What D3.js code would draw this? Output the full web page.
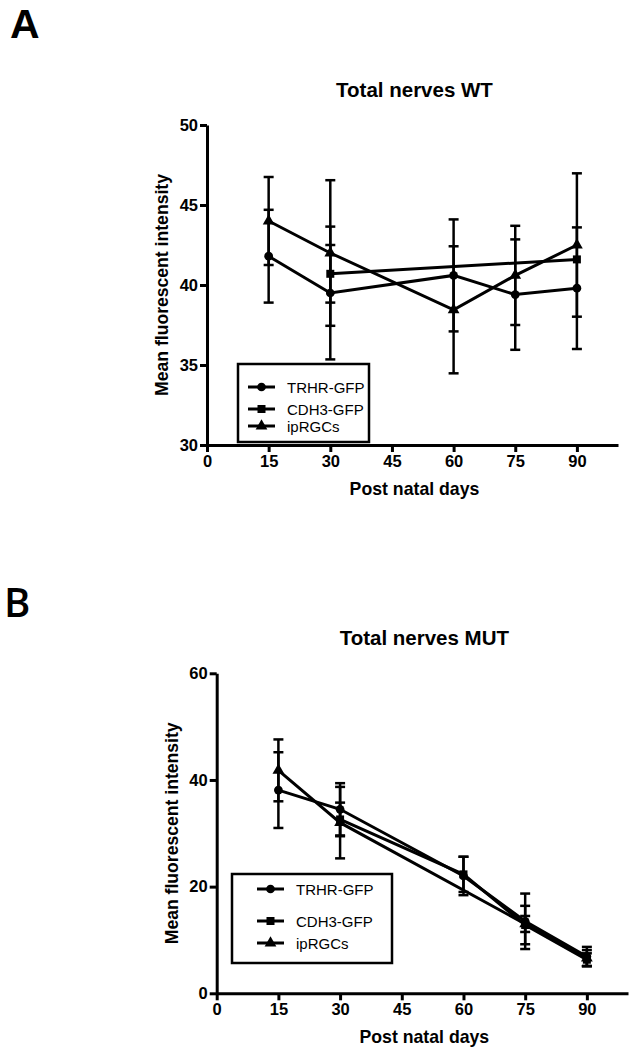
<!DOCTYPE html>
<html>
<head>
<meta charset="utf-8">
<title>Total nerves WT / MUT</title>
<script src="https://cdn.jsdelivr.net/npm/d3@7"></script>
<style>
  body { margin: 0; background: #fff; }
  svg text { font-family: "Liberation Sans", Arial, sans-serif; fill: #000; }
  .domain, .tick line { stroke: #000; }
</style>
</head>
<body>
<svg id="fig" width="632" height="1050"></svg>
<script>
// x values (post natal days) shared by both panels
var days = [15, 30, 60, 75, 90];
var seriesNames = ["TRHR-GFP", "CDH3-GFP", "ipRGCs"];
var xTicks = [0, 15, 30, 45, 60, 75, 90];

// panel A - WT (null = no measurement, line is drawn across)
var wtTRHR     = [41.8, 39.5, 40.6, 39.4, 39.8];
var wtTRHRerr  = [2.9, 4.15, 3.5, 3.45, 3.8];
var wtCDH3     = [null, 40.7, null, null, 41.6];
var wtCDH3err  = [null, 1.8, null, null, 0];
var wtIpRGC    = [44.0, 42.0, 38.45, 40.6, 42.5];
var wtIpRGCerr = [2.75, 4.55, 3.97, 3.1, 4.48];
var wtYTicks   = [30, 35, 40, 45, 50];

// panel B - MUT
var mutTRHR     = [38.1, 34.5, 22.0, 13.5, 6.9];
var mutTRHRerr  = [7.1, 4.9, 3.6, 5.2, 1.8];
var mutCDH3     = [null, 32.6, 22.3, 12.8, 6.3];
var mutCDH3err  = [null, 3.15, 3.3, 3.6, 1.2];
var mutIpRGC    = [41.8, 32.0, null, 13.0, 6.6];
var mutIpRGCerr = [5.8, 6.7, null, 1.5, 1.5];
var mutYTicks   = [0, 20, 40, 60];

var svg = d3.select("#fig");
var symbols = [d3.symbolCircle, d3.symbolSquare, d3.symbolTriangle];
var symSize = [60, 64, 60];

function drawPanel(p) {
  var x = d3.scaleLinear().domain([0, 100]).range([p.left, p.right]);
  var y = d3.scaleLinear().domain(p.yDomain).range([p.bottom, p.top]);
  var g = svg.append("g");

  // title
  g.append("text")
    .attr("x", (p.left + p.right) / 2 + 2)
    .attr("y", p.top - 28)
    .attr("text-anchor", "middle")
    .style("font-size", "20.5px")
    .style("font-weight", "bold")
    .text(p.title);

  // axes
  var yAxis = d3.axisLeft(y).tickValues(p.yTicks).tickSize(7).tickSizeOuter(0).tickPadding(2);
  var xAxis = d3.axisBottom(x).tickValues(xTicks).tickSize(7).tickSizeOuter(0).tickPadding(3);

  g.append("g")
    .attr("transform", "translate(" + p.left + ",0)")
    .call(yAxis)
    .call(function(a) {
      a.select(".domain").attr("stroke-width", 3);
      a.selectAll(".tick line").attr("stroke-width", 3);
      a.selectAll("text").style("font-size", "16.5px").style("font-weight", "bold")
        .attr("font-family", null);
    });

  g.append("g")
    .attr("transform", "translate(0," + p.bottom + ")")
    .call(xAxis)
    .call(function(a) {
      a.select(".domain").attr("stroke-width", 3);
      a.selectAll(".tick line").attr("stroke-width", 3);
      a.selectAll("text").style("font-size", "16.5px").style("font-weight", "bold")
        .attr("font-family", null);
    });

  // axis titles
  g.append("text")
    .attr("transform", "translate(" + (p.left - 39) + "," + ((p.top + p.bottom) / 2) + ") rotate(-90)")
    .attr("text-anchor", "middle")
    .style("font-size", "17.6px")
    .style("font-weight", "bold")
    .text("Mean fluorescent intensity");

  g.append("text")
    .attr("x", (p.left + p.right) / 2 + 2)
    .attr("y", p.bottom + 50)
    .attr("text-anchor", "middle")
    .style("font-size", "17.7px")
    .style("font-weight", "bold")
    .text("Post natal days");

  var line = d3.line()
    .x(function(d) { return x(d.day); })
    .y(function(d) { return y(d.v); });

  p.series.forEach(function(s, si) {
    var pts = days.map(function(d, i) { return {day: d, v: s.values[i], e: s.errors[i]}; })
                  .filter(function(d) { return d.v != null; });

    // error bars
    var eb = g.append("g");
    pts.forEach(function(d) {
      if (!d.e) return;
      var cx = x(d.day);
      eb.append("line").attr("x1", cx).attr("x2", cx)
        .attr("y1", y(d.v - d.e)).attr("y2", y(d.v + d.e))
        .attr("stroke", "#000").attr("stroke-width", 2.5);
      [d.v - d.e, d.v + d.e].forEach(function(c) {
        eb.append("line").attr("x1", cx - 5).attr("x2", cx + 5)
          .attr("y1", y(c)).attr("y2", y(c))
          .attr("stroke", "#000").attr("stroke-width", 2.5);
      });
    });

    g.append("path")
      .attr("d", line(pts))
      .attr("fill", "none")
      .attr("stroke", "#000")
      .attr("stroke-width", 3);

    g.selectAll(null)
      .data(pts)
      .enter().append("path")
      .attr("transform", function(d) { return "translate(" + x(d.day) + "," + y(d.v) + ")"; })
      .attr("d", d3.symbol().type(symbols[si]).size(symSize[si]))
      .attr("fill", "#000");
  });

  // legend
  var lg = g.append("g");
  lg.append("rect")
    .attr("x", p.legend.x).attr("y", p.legend.y)
    .attr("width", p.legend.w).attr("height", p.legend.h)
    .attr("fill", "#fff").attr("stroke", "#000").attr("stroke-width", 2.5);
  seriesNames.forEach(function(name, i) {
    var ry = p.legend.y + p.legend.rows[i];
    var lx = p.legend.x + p.legend.symX;
    lg.append("line")
      .attr("x1", lx).attr("x2", lx + 27)
      .attr("y1", ry).attr("y2", ry)
      .attr("stroke", "#000").attr("stroke-width", 3);
    lg.append("path")
      .attr("transform", "translate(" + (lx + 13.5) + "," + ry + ")")
      .attr("d", d3.symbol().type(symbols[i]).size(symSize[i]))
      .attr("fill", "#000");
    lg.append("text")
      .attr("x", lx + 39)
      .attr("y", ry + 5.5)
      .style("font-size", "15px")
      .text(name);
  });
}

drawPanel({
  title: "Total nerves WT",
  left: 207, right: 618, top: 125, bottom: 445,
  yDomain: [30, 50], yTicks: wtYTicks,
  series: [
    {values: wtTRHR, errors: wtTRHRerr},
    {values: wtCDH3, errors: wtCDH3err},
    {values: wtIpRGC, errors: wtIpRGCerr}
  ],
  legend: {x: 238, y: 364, w: 131, h: 78, symX: 10, rows: [23, 45, 62]}
});

drawPanel({
  title: "Total nerves MUT",
  left: 216.7, right: 628, top: 673.3, bottom: 993.3,
  yDomain: [0, 60], yTicks: mutYTicks,
  series: [
    {values: mutTRHR, errors: mutTRHRerr},
    {values: mutCDH3, errors: mutCDH3err},
    {values: mutIpRGC, errors: mutIpRGCerr}
  ],
  legend: {x: 232, y: 874, w: 160, h: 89, symX: 25, rows: [15, 47, 69]}
});

// panel letters
svg.append("text")
  .attr("x", 10).attr("y", 38)
  .style("font-size", "41px").style("font-weight", "bold")
  .text("A");
svg.append("text")
  .attr("x", 4).attr("y", 617)
  .style("font-family", "'Open Sans', sans-serif")
  .style("font-size", "40px").style("font-weight", "600")
  .text("B");
</script>
</body>
</html>
